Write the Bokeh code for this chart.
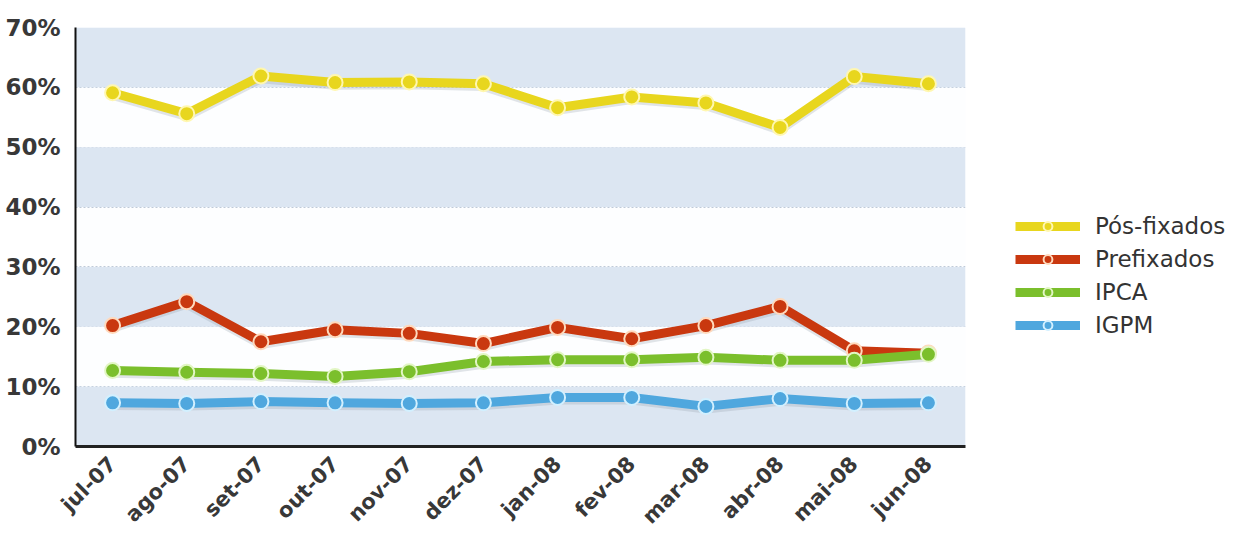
import math
from bokeh.plotting import figure
from bokeh.models import (ColumnDataSource, Range1d, FixedTicker, BoxAnnotation,
                          Legend, LegendItem)
from bokeh.transform import dodge
from bokeh.embed import file_html
from bokeh.resources import INLINE

months = ["jul-07", "ago-07", "set-07", "out-07", "nov-07", "dez-07",
          "jan-08", "fev-08", "mar-08", "abr-08", "mai-08", "jun-08"]
pos_fixados = [59.1, 55.6, 61.9, 60.8, 60.9, 60.6, 56.6, 58.4, 57.4, 53.3, 61.8, 60.6]
prefixados = [20.2, 24.2, 17.5, 19.5, 18.9, 17.2, 19.9, 18.0, 20.2, 23.4, 16.0, 15.6]
ipca = [12.7, 12.4, 12.2, 11.7, 12.5, 14.2, 14.5, 14.5, 14.9, 14.4, 14.4, 15.4]
igpm = [7.3, 7.2, 7.5, 7.3, 7.2, 7.3, 8.2, 8.2, 6.7, 8.0, 7.2, 7.3]
y_ticks = [0, 10, 20, 30, 40, 50, 60, 70]
y_tick_labels = ["0%", "10%", "20%", "30%", "40%", "50%", "60%", "70%"]

series = [
    ("Pós-fixados", "pos", pos_fixados, "#E8D61E", "#FFF7B0"),
    ("Prefixados", "pre", prefixados, "#C9380F", "#FFD9BC"),
    ("IPCA", "ipca", ipca, "#7BBF2C", "#E2F6C4"),
    ("IGPM", "igpm", igpm, "#4FA7DE", "#D2F0FF"),
]

source = ColumnDataSource(data=dict(month=months, pos=pos_fixados, pre=prefixados,
                                    ipca=ipca, igpm=igpm))

p = figure(x_range=months, y_range=Range1d(y_ticks[0], y_ticks[-1]),
           frame_width=890, frame_height=419,
           min_border_left=75, min_border_top=27, min_border_bottom=70,
           min_border_right=10,
           output_backend="svg", toolbar_location=None,
           background_fill_color="#FDFEFF", border_fill_color="white")
p.outline_line_color = None

# background bands
for i in range(0, len(y_ticks) - 1, 2):
    p.add_layout(BoxAnnotation(bottom=y_ticks[i], top=y_ticks[i + 1],
                               fill_color="#DCE6F2", fill_alpha=1.0,
                               line_color=None, level="underlay"))

p.xgrid.grid_line_color = None
p.ygrid.ticker = FixedTicker(ticks=y_ticks)
p.ygrid.grid_line_color = "#BFCAD8"
p.ygrid.grid_line_dash = "2 2"
p.ygrid.grid_line_width = 1

p.yaxis.ticker = FixedTicker(ticks=y_ticks)
p.yaxis.major_label_overrides = {t: l for t, l in zip(y_ticks, y_tick_labels)}
p.yaxis.major_label_text_font = "DejaVu Sans"
p.yaxis.major_label_text_font_style = "bold"
p.yaxis.major_label_text_font_size = "23px"
p.yaxis.major_label_text_color = "#383838"
p.yaxis.major_label_standoff = 9
p.yaxis.axis_line_color = "#111111"
p.yaxis.axis_line_width = 2
p.yaxis.major_tick_line_color = None
p.yaxis.minor_tick_line_color = None

p.xaxis.major_label_orientation = math.pi / 4
p.xaxis.major_label_text_font = "DejaVu Sans"
p.xaxis.major_label_text_font_style = "bold"
p.xaxis.major_label_text_font_size = "21px"
p.xaxis.major_label_text_color = "#383838"
p.xaxis.major_label_standoff = 8
p.xaxis.axis_line_color = "#222222"
p.xaxis.axis_line_width = 3
p.xaxis.major_tick_line_color = None
p.xaxis.minor_tick_line_color = None

items = []
for label, col, vals, color, outline in series:
    p.line(x="month", y=dodge(col, -0.45), source=source, line_width=9,
           line_color="#8A96A4", line_alpha=0.25, line_join="round")
    ln = p.line(x="month", y=col, source=source, line_width=9,
                line_color=color, line_join="round")
    sc = p.scatter(x="month", y=col, source=source, size=15,
                   fill_color=color, line_color=outline, line_width=2)
    items.append(LegendItem(label=label, renderers=[ln, sc]))

legend = Legend(items=items, location=(50, 108))
legend.label_text_font = "DejaVu Sans"
legend.label_text_font_size = "23px"
legend.label_text_color = "#333333"
legend.glyph_width = 65
legend.glyph_height = 22
legend.label_height = 22
legend.label_standoff = 15
legend.spacing = 7
legend.padding = 0
legend.margin = 0
legend.border_line_color = None
legend.background_fill_alpha = 0.0
p.add_layout(legend, "right")

open("out.html", "w").write(file_html(p, INLINE))
